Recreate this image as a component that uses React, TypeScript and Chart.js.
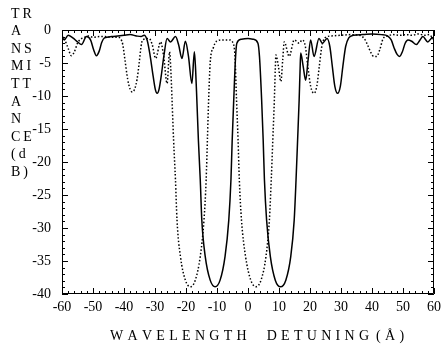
import { useEffect, useRef } from "react";
import { Chart, registerables } from "chart.js";

Chart.register(...registerables);

const xTickValues = [-60, -50, -40, -30, -20, -10, 0, 10, 20, 30, 40, 50, 60];
const yTickValues = [0, -5, -10, -15, -20, -25, -30, -35, -40];

const xTitle = "WAVELENGTH DETUNING (Å)";
const yTitleRows = ["TR", "A", "NS", "MI", "TT", "A", "N", "CE", "(d", "B)"];

const solidWl = [
  -60, -59.3, -58, -56.5, -55, -53.7, -52.1, -50.8, -49.8, -48.9, -48, -47.2, -46.3, -44, -42, -40, -38, -36, -34.5,
  -33.5, -32.5, -31.6, -30.6, -29.9, -29.3, -28.7, -28, -27.1, -26.1, -25, -23.4, -22.4, -21.3, -20.2, -19.2, -18.1,
  -17.3, -16.9, -16.5, -16.0, -15.4, -14.9, -13.8, -12.2, -10.6, -9.0, -7.4, -6.2, -5.5, -5.1, -4.6, -4.0, -3.6, -2.1,
  0, 1.6, 3.2, 3.7, 4.4, 4.9, 5.3, 6.0, 7.2, 8.8, 10.5, 12.2, 13.8, 14.9, 15.5, 16.0, 16.5, 16.8, 17.0, 17.8, 18.6,
  19.4, 20.2, 21.3, 22.9, 24.0, 25.5, 26.4, 27.2, 28.0, 28.9, 29.8, 30.6, 31.5, 32.5, 34, 37, 40, 43, 45, 46.2, 47.2,
  48.1, 48.9, 49.8, 50.7, 51.6, 52.8, 54.3, 55.5, 56.4, 58.0, 59.4, 60,
];
const solidDb = [
  -1.0, -1.5, -0.8, -1.2, -1.8, -2.2, -1.0, -1.5, -3.0, -3.9, -3.2, -1.9, -1.2, -1.0, -0.9, -0.8, -0.7, -0.9, -1.0,
  -0.8, -1.6, -3.8, -7.0, -9.0, -9.6, -9.0, -7.0, -3.8, -1.3, -1.8, -1.0, -2.2, -4.3, -1.7, -4.0, -8.1,
  -3.3, -6.0, -10.6, -16.7, -22.7, -28.8, -34.3, -37.9, -38.9, -37.9, -34.3, -28.8, -22.7, -16.7, -10.6, -4.0, -2.0, -1.4,
  -1.3, -1.4, -2.0, -4.0, -10.6, -16.7, -22.7, -28.8, -34.3, -37.9, -38.9, -37.9, -34.3, -28.8, -22.7, -16.7, -10.6, -6.0, -3.5, -5.5, -7.6,
  -4.5, -1.5, -4.0, -1.3, -2.0, -1.3, -2.5, -5.5, -8.5, -9.6, -8.5, -5.5, -2.5, -1.2, -0.8, -0.7, -0.6, -0.7, -0.9, -1.5, -2.8,
  -3.7, -4.0, -3.3, -2.0, -1.5, -1.7, -2.2, -1.5, -1.0, -1.8, -1.2, -1.3,
];

const dottedWl = [
  -60, -59, -58, -57, -56, -55, -54, -52.7, -51.5, -50, -48, -46, -44, -42, -41, -40.4, -39.7, -38.8, -38, -37.3,
  -36.6, -35.8, -35.1, -34.5, -34.0, -31.9, -30.9, -29.8, -28.2, -27.2, -26.1, -25.3, -24.9, -24.5, -24.0, -23.4,
  -22.9, -21.8, -20.2, -18.6, -17.0, -15.4, -14.2, -13.5, -13.1, -12.7, -12.2, -11.2, -10.1, -8, -6, -4.8, -4.2,
  -3.7, -3.2, -2.8, -2.1, -0.8, 0.9, 2.6, 4.2, 5.8, 6.9, 7.5, 8.0, 8.5, 8.8, 9.0, 9.8, 10.6, 11.2, 11.7, 13.3, 14.9,
  16.5, 17.5, 18.5, 19.3, 20.2, 21.3, 22.2, 23.0, 23.8, 24.8, 27, 30, 33, 36, 37.5, 38.6, 39.6, 40.6, 41.5, 42.5,
  43.6, 45, 47, 49, 51, 53, 55, 57, 58.5, 59.5, 60,
];
const dottedDb = [
  -0.9, -1.6, -2.8, -3.9, -3.3, -2.0, -1.4, -1.1, -0.9, -1.1, -1.0, -1.0, -1.1, -1.1, -1.4, -2.2, -4.5, -7.5, -9.0, -9.4,
  -9.0, -7.5, -5.0, -2.5, -1.5, -1.3, -2.2, -4.3, -1.8, -4.0, -8.1, -3.3, -6.0, -10.6, -16.7, -22.7,
  -28.8, -34.3, -37.9, -38.9, -37.9, -34.3, -28.8, -22.7, -16.7, -10.6, -5.0, -2.7, -1.7, -1.5, -1.5, -2.0, -4.0,
  -10.6, -16.7, -22.7, -28.8, -34.3, -37.9, -38.9, -37.9, -34.3, -28.8, -22.7, -16.7, -10.6, -6.0, -3.8, -5.5, -7.8, -4.5, -1.8, -4.0, -1.5,
  -2.0, -1.5, -2.5, -5.5, -8.5, -9.6, -8.5, -5.5, -2.5, -1.2, -0.9, -0.8, -0.7, -0.8, -1.3, -2.3, -3.4, -4.0, -4.0, -3.0,
  -1.3, -0.9, -0.7, -0.8, -0.7, -0.8, -0.6, -0.8, -0.7, -1.2, -1.5,
];

const FONT = "'Liberation Serif', 'Times New Roman', serif";

const framePlugin = {
  id: "frameTicks",
  afterDraw(chart: any) {
    const { ctx, chartArea, scales } = chart;
    const { left, right, top, bottom } = chartArea;
    const xs = scales.x;
    const ys = scales.y;
    ctx.save();
    ctx.strokeStyle = "#000";
    ctx.lineWidth = 1;
    ctx.beginPath();
    ctx.rect(Math.round(left) + 0.5, Math.round(top) + 0.5, Math.round(right - left) - 1, Math.round(bottom - top) - 1);
    ctx.stroke();
    ctx.beginPath();
    for (let v = -60; v <= 60; v += 2) {
      const px = Math.round(xs.getPixelForValue(v)) + 0.5;
      const len = v % 10 === 0 ? 6 : 3;
      ctx.moveTo(px, bottom);
      ctx.lineTo(px, bottom - len);
      ctx.moveTo(px, top);
      ctx.lineTo(px, top + len);
    }
    for (let v = -40; v <= 0; v += 1) {
      const py = Math.round(ys.getPixelForValue(v)) + 0.5;
      const len = v % 5 === 0 ? 6 : 3;
      ctx.moveTo(left, py);
      ctx.lineTo(left + len, py);
      ctx.moveTo(right, py);
      ctx.lineTo(right - len, py);
    }
    ctx.stroke();

    // y title rows
    ctx.fillStyle = "#000";
    ctx.font = `14px ${FONT}`;
    ctx.textBaseline = "middle";
    ctx.textAlign = "left";
    yTitleRows.forEach((row, i) => {
      let x = 11;
      const y = 14 + i * 17.6;
      for (const ch of row) {
        ctx.fillText(ch, x, y);
        x += ctx.measureText(ch).width + 3;
      }
    });

    // x title, letter-spaced, word by word
    ctx.font = `14px ${FONT}`;
    ctx.textBaseline = "alphabetic";
    const words = xTitle.split(" ");
    const letterGap = 4.3;
    const wordGaps = [20, 7];
    let x = 110;
    words.forEach((w, wi) => {
      const chars = Array.from(w);
      chars.forEach((c, ci) => {
        ctx.fillText(c, x, 340);
        x += ctx.measureText(c).width + (ci < chars.length - 1 ? letterGap : 0);
      });
      if (wi < wordGaps.length) x += wordGaps[wi];
    });
    ctx.restore();
  },
};

export default function App() {
  const ref = useRef<HTMLCanvasElement | null>(null);
  useEffect(() => {
    if (!ref.current) return;
    const chart = new Chart(ref.current, {
      type: "line",
      data: {
        datasets: [
          {
            label: "solid",
            data: solidWl.map((x, i) => ({ x, y: solidDb[i] })),
            borderColor: "#000",
            borderWidth: 1.5,
            pointRadius: 0,
            fill: false,
            cubicInterpolationMode: "monotone",
          },
          {
            label: "dotted",
            data: dottedWl.map((x, i) => ({ x, y: dottedDb[i] })),
            borderColor: "#000",
            borderWidth: 1.5,
            borderDash: [1.5, 2],
            pointRadius: 0,
            fill: false,
            cubicInterpolationMode: "monotone",
          },
        ],
      },
      options: {
        animation: false,
        responsive: false,
        devicePixelRatio: 1,
        layout: { padding: { left: 0, right: 8, top: 30, bottom: 0 } },
        plugins: { legend: { display: false }, tooltip: { enabled: false }, title: { display: false } },
        scales: {
          x: {
            type: "linear",
            min: -60,
            max: 60,
            afterBuildTicks: (s: any) => {
              s.ticks = xTickValues.map((v) => ({ value: v }));
            },
            afterFit: (s: any) => {
              s.height = 53;
            },
            grid: { display: false, drawTicks: false },
            border: { display: false },
            ticks: { color: "#000", font: { family: FONT, size: 14 }, padding: 5, maxRotation: 0, autoSkip: false },
          },
          y: {
            type: "linear",
            min: -40,
            max: 0,
            afterBuildTicks: (s: any) => {
              s.ticks = yTickValues.map((v) => ({ value: v }));
            },
            afterFit: (s: any) => {
              s.width = 62;
            },
            grid: { display: false, drawTicks: false },
            border: { display: false },
            ticks: { color: "#000", font: { family: FONT, size: 14 }, padding: 11, autoSkip: false },
          },
        },
      },
      plugins: [framePlugin],
    });
    return () => chart.destroy();
  }, []);
  return (
    <div style={{ position: "absolute", left: 0, top: 0, width: 446, height: 347, background: "#fff" }}>
      <canvas ref={ref} width={446} height={347} />
    </div>
  );
}
